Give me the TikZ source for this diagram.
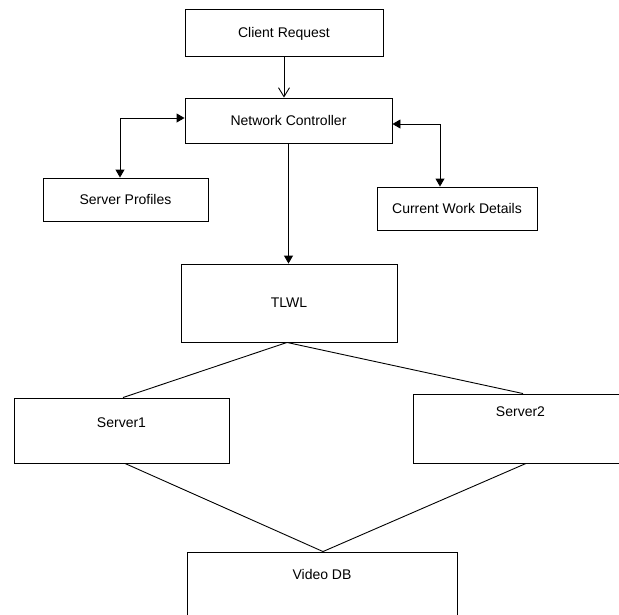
\documentclass[tikz,border=0pt]{standalone}
\usepackage{fontspec}
\setmainfont{Liberation Sans}
\usetikzlibrary{arrows.meta, positioning}

\begin{document}
\begin{tikzpicture}[
    x=1pt, y=-1pt,
    font=\fontsize{14}{16}\selectfont,
    box/.style={draw, line width=0.9pt, inner sep=0pt, align=center, text height=9.9pt, text depth=0pt},
    lbl/.style={inner sep=0pt, text height=9.9pt, text depth=0pt},
    arr/.style={-{Triangle[length=8pt, width=9pt]}, line width=0.9pt},
    darr/.style={{Triangle[length=8pt, width=9pt]}-{Triangle[length=8pt, width=9pt]}, line width=0.9pt},
    link/.style={line width=0.9pt},
]
\clip (0,0) rectangle (619,614);

\node[box, minimum width=198pt, minimum height=47pt] (client) at (284,32.5)  {Client Request};
\node[box, minimum width=207pt, minimum height=45pt] (ctrl)   at (288.5,120.5) {Network Controller};
\node[box, minimum width=165pt, minimum height=43pt] (prof)   at (125.5,199.5) {Server Profiles};
\node[box, minimum width=160pt, minimum height=43pt] (work)   at (457,208.5)  {Current Work Details};
\node[box, minimum width=216pt, minimum height=78pt] (tlwl)   at (289,303)    {TLWL};
\node[box, minimum width=215pt, minimum height=65pt] (srv1)   at (121.5,430.5) {};
\node[box, minimum width=215pt, minimum height=69pt] (srv2)   at (520.5,428.5) {};
\node[box, minimum width=270pt, minimum height=74pt] (vdb)    at (322,589)    {};

\node[lbl, below=20pt of srv1.north] (srv1txt) {Server1};
\node[lbl, below=13pt of srv2.north] (srv2txt) {Server2};
\node[lbl, below=18pt of vdb.north]  (vdbtxt)  {Video DB};

\draw[line width=0.9pt, -{Straight Barb[length=9pt, width=11pt]}] (client.south) -- (client.south |- ctrl.north);
\draw[darr] ([yshift=2.5pt]ctrl.west) -| ([xshift=-5.5pt]prof.north);
\draw[darr] ([yshift=-3.5pt]ctrl.east) -| ([xshift=-17pt]work.north);
\draw[arr]  (ctrl.south) -- (ctrl.south |- tlwl.north);

\draw[link] ([xshift=-2pt]tlwl.south) -- ([xshift=1.5pt]srv1.north);
\draw[link] ([xshift=-2pt]tlwl.south) -- ([xshift=2.5pt]srv2.north);
\draw[link] ([xshift=3.5pt]srv1.south) -- ([xshift=1pt]vdb.north);
\draw[link] ([xshift=5.5pt]srv2.south) -- ([xshift=1pt]vdb.north);

\end{tikzpicture}
\end{document}
